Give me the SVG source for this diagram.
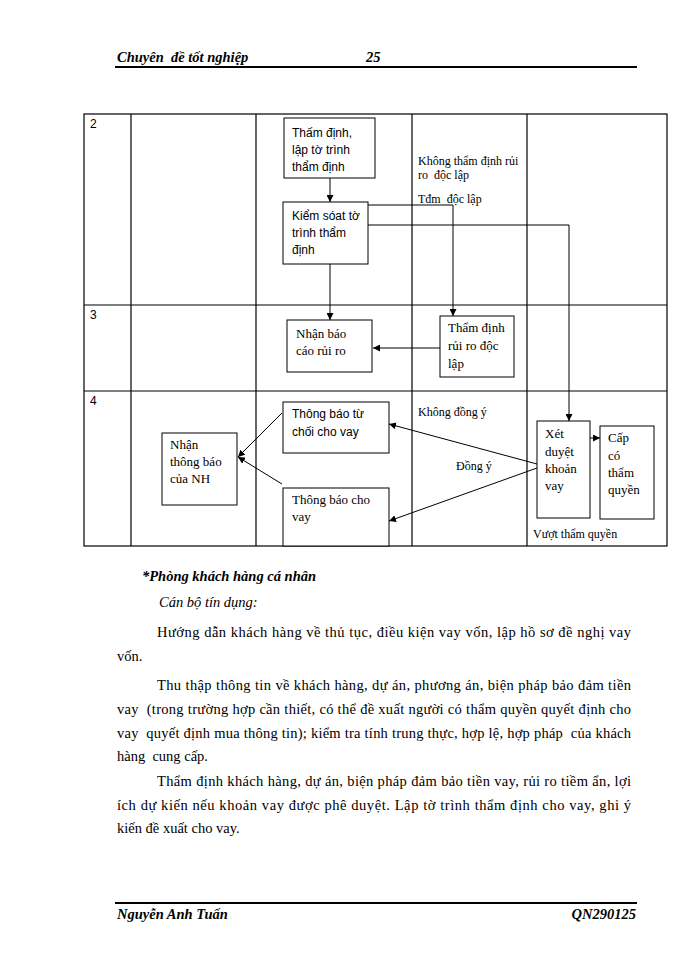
<svg xmlns="http://www.w3.org/2000/svg" width="700" height="960" viewBox="0 0 700 960">
<defs>
<marker id="arr" viewBox="0 0 10 10" refX="10" refY="5" markerWidth="7" markerHeight="7" orient="auto" markerUnits="userSpaceOnUse">
<path d="M0,0 L10,5 L0,10 z" fill="#000"/>
</marker>
</defs>
<style>
text{white-space:pre}
.tbl{stroke:#000;stroke-width:1.2;fill:none}
.box{fill:#fff;stroke:#000;stroke-width:1}
.ln{stroke:#000;stroke-width:1;fill:none}
.sans{font-family:"Liberation Sans",Arial,sans-serif;font-size:12px;fill:#000}
.ser{font-family:"Liberation Serif","Times New Roman",serif;font-size:13px;fill:#000}
.lab{font-family:"Liberation Serif","Times New Roman",serif;font-size:12px;fill:#000}
.body{font-family:"Liberation Serif","Times New Roman",serif;font-size:14.5px;fill:#000}
.hdr{font-family:"Liberation Serif","Times New Roman",serif;font-size:14.5px;font-weight:bold;font-style:italic;fill:#000}
</style>
<rect width="700" height="960" fill="#fff"/>

<g id="header">
<text class="hdr" x="117" y="62">Chuyên  đề tốt nghiệp</text>
<text class="hdr" x="366" y="62">25</text>
<line x1="115" y1="67" x2="637" y2="67" stroke="#000" stroke-width="1.8"/>
</g>

<g id="table">
<rect class="tbl" x="84" y="114" width="583" height="432"/>
<line class="tbl" x1="131" y1="114" x2="131" y2="546"/>
<line class="tbl" x1="256" y1="114" x2="256" y2="546"/>
<line class="tbl" x1="412" y1="114" x2="412" y2="546"/>
<line class="tbl" x1="527" y1="114" x2="527" y2="546"/>
<line class="tbl" x1="84" y1="305" x2="667" y2="305"/>
<line class="tbl" x1="84" y1="391" x2="667" y2="391"/>
<text class="sans" x="90" y="128">2</text>
<text class="sans" x="90" y="319">3</text>
<text class="sans" x="90" y="405">4</text>
</g>

<g id="connectors">
<line class="ln" x1="330" y1="178" x2="330" y2="202" marker-end="url(#arr)"/>
<line class="ln" x1="330" y1="264" x2="330" y2="320" marker-end="url(#arr)"/>
<polyline class="ln" points="368,205 453,205 453,316" marker-end="url(#arr)"/>
<polyline class="ln" points="368,225 569,225 569,421" marker-end="url(#arr)"/>
<line class="ln" x1="440" y1="348" x2="373" y2="348" marker-end="url(#arr)"/>
<line class="ln" x1="537" y1="464" x2="389" y2="424" marker-end="url(#arr)"/>
<line class="ln" x1="537" y1="468" x2="389" y2="521" marker-end="url(#arr)"/>
<line class="ln" x1="590" y1="438" x2="600" y2="438" marker-end="url(#arr)"/>
<line class="ln" x1="282" y1="413" x2="238" y2="457" marker-end="url(#arr)"/>
<line class="ln" x1="282" y1="484" x2="238" y2="457" marker-end="url(#arr)"/>
</g>

<g id="n_thamdinh">
<rect class="box" x="284" y="118" width="91" height="60"/>
<text class="sans"><tspan x="292" y="137">Thấm định,</tspan><tspan x="292" y="154">lập tờ trình</tspan><tspan x="292" y="171">thẩm định</tspan></text>
</g>
<g id="n_kiemsoat">
<rect class="box" x="283" y="202" width="85" height="62"/>
<text class="sans"><tspan x="292" y="220">Kiểm sóat tờ</tspan><tspan x="292" y="237">trình thẩm</tspan><tspan x="292" y="254">định</tspan></text>
</g>
<g id="n_nhanbaocao">
<rect class="box" x="287" y="320" width="85" height="52"/>
<text class="ser"><tspan x="296" y="338">Nhận báo</tspan><tspan x="296" y="355">cáo rủi ro</tspan></text>
</g>
<g id="n_thamdinhruiro">
<rect class="box" x="440" y="316" width="74" height="61"/>
<text class="ser"><tspan x="448" y="332">Thẩm định</tspan><tspan x="448" y="350">rủi ro độc</tspan><tspan x="448" y="368">lập</tspan></text>
</g>
<g id="n_tuchoi">
<rect class="box" x="283" y="402" width="106" height="51"/>
<text class="sans"><tspan x="292" y="418">Thông báo từ</tspan><tspan x="292" y="436">chối cho vay</tspan></text>
</g>
<g id="n_chovay">
<rect class="box" x="283" y="488" width="106" height="58"/>
<text class="ser"><tspan x="292" y="504">Thông báo cho</tspan><tspan x="292" y="521">vay</tspan></text>
</g>
<g id="n_nhanthongbao">
<rect class="box" x="162" y="433" width="75" height="72"/>
<text class="ser"><tspan x="170" y="449">Nhận</tspan><tspan x="170" y="466">thông báo</tspan><tspan x="170" y="483">của NH</tspan></text>
</g>
<g id="n_xetduyet">
<rect class="box" x="537" y="421" width="53" height="97"/>
<text class="ser"><tspan x="545" y="438">Xét</tspan><tspan x="545" y="456">duyệt</tspan><tspan x="545" y="473">khoản</tspan><tspan x="545" y="490">vay</tspan></text>
</g>
<g id="n_cap">
<rect class="box" x="600" y="426" width="54" height="93"/>
<text class="ser"><tspan x="608" y="442">Cấp</tspan><tspan x="608" y="460">có</tspan><tspan x="608" y="477">thẩm</tspan><tspan x="608" y="494">quyền</tspan></text>
</g>

<g id="labels">
<text class="lab" font-size="11.5"><tspan x="418" y="165">Không thẩm định rủi</tspan><tspan x="418" y="179">ro  độc lập</tspan></text>
<text class="lab" x="418" y="203">Tđm  độc lập</text>
<text class="lab" x="418" y="416">Không đồng ý</text>
<text class="lab" x="456" y="470">Đồng ý</text>
<text class="lab" x="533" y="538">Vượt thẩm quyền</text>
</g>

<g id="body">
<text class="hdr" x="142" y="581">*Phòng khách hàng cá nhân</text>
<text class="body" x="159" y="607" font-style="italic">Cán bộ tín dụng:</text>
<text class="body" x="157" y="637" textLength="474" lengthAdjust="spacing">Hướng dẫn khách hàng về thủ tục, điều kiện vay vốn, lập hồ sơ đề nghị vay</text>
<text class="body" x="117" y="661">vốn.</text>
<text class="body" x="157" y="690" textLength="474" lengthAdjust="spacing">Thu thập thông tin về khách hàng, dự án, phương án, biện pháp bảo đảm tiền</text>
<text class="body" x="117" y="714" textLength="514" lengthAdjust="spacing">vay  (trong trường hợp cần thiết, có thể đề xuất người có thẩm quyền quyết định cho</text>
<text class="body" x="117" y="738" textLength="514" lengthAdjust="spacing">vay  quyết định mua thông tin); kiểm tra tính trung thực, hợp lệ, hợp pháp  của khách</text>
<text class="body" x="117" y="761">hàng  cung cấp.</text>
<text class="body" x="157" y="786" textLength="474" lengthAdjust="spacing">Thẩm định khách hàng, dự án, biện pháp đảm bảo tiền vay, rủi ro tiềm ẩn, lợi</text>
<text class="body" x="117" y="810" textLength="514" lengthAdjust="spacing">ích dự kiến nếu khoản vay được phê duyệt. Lập tờ trình thẩm định cho vay, ghi ý</text>
<text class="body" x="117" y="833">kiến đề xuất cho vay.</text>
</g>

<g id="footer">
<line x1="115" y1="903" x2="637" y2="903" stroke="#000" stroke-width="1.8"/>
<text class="hdr" x="117" y="919">Nguyễn Anh Tuấn</text>
<text class="hdr" x="636" y="919" text-anchor="end">QN290125</text>
</g>
</svg>
